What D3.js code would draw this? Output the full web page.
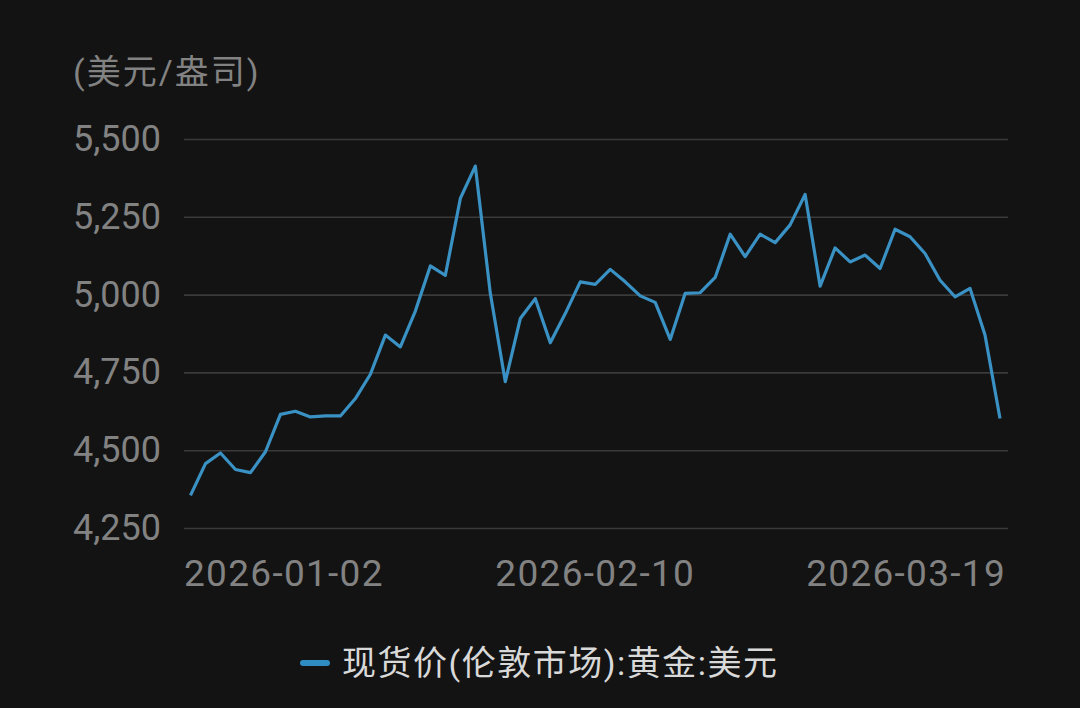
<!DOCTYPE html>
<html>
<head>
<meta charset="utf-8">
<script src="https://cdn.jsdelivr.net/npm/d3@7"></script>
<style>
  html, body { margin: 0; padding: 0; background: #131313; }
  #chart { width: 1080px; height: 708px; }
  text { font-family: Roboto, "Noto Sans CJK SC", sans-serif; }
</style>
</head>
<body>
<div id="chart"></div>
<script>
// trading days (London market), 2026-01-02 .. 2026-03-19
const dates = [
  "2026-01-02","2026-01-05","2026-01-06","2026-01-07","2026-01-08","2026-01-09",
  "2026-01-12","2026-01-13","2026-01-14","2026-01-15","2026-01-16",
  "2026-01-19","2026-01-20","2026-01-21","2026-01-22","2026-01-23",
  "2026-01-26","2026-01-27","2026-01-28","2026-01-29","2026-01-30",
  "2026-02-02","2026-02-03","2026-02-04","2026-02-05","2026-02-06",
  "2026-02-09","2026-02-10","2026-02-11","2026-02-12","2026-02-13",
  "2026-02-16","2026-02-17","2026-02-18","2026-02-19","2026-02-20",
  "2026-02-23","2026-02-24","2026-02-25","2026-02-26","2026-02-27",
  "2026-03-02","2026-03-03","2026-03-04","2026-03-05","2026-03-06",
  "2026-03-09","2026-03-10","2026-03-11","2026-03-12","2026-03-13",
  "2026-03-16","2026-03-17","2026-03-18","2026-03-19"
];

// 现货价(伦敦市场):黄金:美元
const prices = [
  4355, 4457, 4491, 4438, 4428, 4495,
  4615, 4625, 4607, 4610, 4610,
  4666, 4744, 4870, 4832, 4947,
  5092, 5062, 5309, 5413, 5004,
  4720, 4923, 4987, 4845, 4939,
  5041, 5033, 5081, 5041, 4996,
  4975, 4856, 5004, 5006, 5055,
  5194, 5122, 5194, 5167, 5224,
  5322, 5027, 5150, 5105, 5127,
  5084, 5210, 5186, 5132, 5046,
  4993, 5020, 4870, 4602
];

const yTicks = [4250, 4500, 4750, 5000, 5250, 5500];
const xTickLabels = ["2026-01-02", "2026-02-10", "2026-03-19"];
const unitLabel = "(美元/盎司)";
const seriesName = "现货价(伦敦市场):黄金:美元";

const W = 1080, H = 708;
const grid = {left: 184, right: 1008, top: 139, bottom: 528};

const svg = d3.select("#chart").append("svg")
    .attr("width", W)
    .attr("height", H);

svg.append("rect").attr("width", W).attr("height", H).attr("fill", "#131313");

const x = d3.scalePoint()
    .domain(dates)
    .range([grid.left + 6.5, grid.right - 8]);

const y = d3.scaleLinear()
    .domain([4250, 5500])
    .range([grid.bottom, grid.top]);

// gridlines + y labels
const yAxis = d3.axisLeft(y)
    .tickValues(yTicks)
    .tickSize(-(grid.right - grid.left))
    .tickPadding(23)
    .tickFormat(d3.format(","));

svg.append("g")
    .attr("transform", `translate(${grid.left},0)`)
    .call(yAxis)
    .call(g => g.select(".domain").remove())
    .call(g => g.selectAll(".tick line").attr("stroke", "#3a3a3a").attr("stroke-width", 1.6))
    .call(g => g.selectAll(".tick text")
        .attr("fill", "#828282")
        .attr("font-size", 36)
        .attr("font-family", "Roboto, sans-serif"));

// unit label
svg.append("text")
    .attr("x", 73)
    .attr("y", 72)
    .attr("dominant-baseline", "central")
    .attr("fill", "#828282")
    .attr("font-size", 34)
    .attr("letter-spacing", 2)
    .text(unitLabel);

// x labels: first left aligned, last right aligned
const xAxisG = svg.append("g");
xTickLabels.forEach((d, i) => {
  const anchor = i === 0 ? "start" : (i === xTickLabels.length - 1 ? "end" : "middle");
  let px = x(d);
  if (i === 0) px = grid.left;
  if (i === xTickLabels.length - 1) px = grid.right - 2;
  xAxisG.append("text")
      .attr("x", px)
      .attr("y", 586)
      .attr("text-anchor", anchor)
      .attr("fill", "#828282")
      .attr("font-size", 37)
      .attr("letter-spacing", 1.3)
      .text(d);
});

// line
const line = d3.line()
    .x((d, i) => x(dates[i]))
    .y(d => y(d));

svg.append("path")
    .datum(prices)
    .attr("fill", "none")
    .attr("stroke", "#3a91c4")
    .attr("stroke-width", 3.2)
    .attr("stroke-linejoin", "round")
    .attr("d", line);

// legend
const legend = svg.append("g").attr("transform", "translate(300,663)");
legend.append("line")
    .attr("x1", 3).attr("x2", 27)
    .attr("stroke", "#2f8cc2")
    .attr("stroke-width", 6)
    .attr("stroke-linecap", "round");
legend.append("text")
    .attr("x", 42)
    .attr("dominant-baseline", "central")
    .attr("fill", "#d9d9d9")
    .attr("font-size", 34)
    .attr("letter-spacing", 1.5)
    .text(seriesName);
</script>
</body>
</html>
